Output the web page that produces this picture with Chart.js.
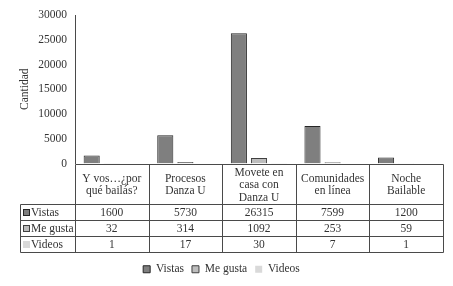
<!DOCTYPE html>
<html><head><meta charset="utf-8">
<script src="https://cdn.jsdelivr.net/npm/chart.js@4"></script>
<style>html,body{margin:0;padding:0;background:#fff}#c{display:block}</style>
</head><body><canvas id="c" width="453" height="286"></canvas>
<script>
const categories = [["Y vos…¿por","qué bailás?"],["Procesos","Danza U"],["Movete en","casa con","Danza U"],["Comunidades","en línea"],["Noche","Bailable"]];
const seriesNames = ["Vistas","Me gusta","Videos"];
const vistas = [1600,5730,26315,7599,1200];
const meGusta = [32,314,1092,253,59];
const videos = [1,17,30,7,1];
const yMax = 30000;
const yStep = 5000;

const FONT = "'Liberation Serif', 'Times New Roman', serif";
const TXT = '#333333';
const LINE = '#4a4a4a';
const fills = ['#7f7f7f','#bdbdbd','#d9d9d9'];
const borders = ['#262626','#404040','#d9d9d9'];
const borderW = [1,1,0];
const seriesData = [vistas, meGusta, videos];

const tablePlugin = {
  id: 'dataTable',
  afterDraw(chart) {
    const ctx = chart.ctx;
    const xs = chart.scales.x;
    const area = chart.chartArea;
    const n = categories.length;
    const half = (xs.getPixelForValue(1) - xs.getPixelForValue(0)) / 2;
    const top = Math.round(area.bottom) + 0.5;
    const hdrH = 40, rowH = 16;
    const labelLeft = 20.5;
    const bottom = top + hdrH + rowH * seriesData.length;
    const bounds = [];
    for (let i = 0; i < n; i++) bounds.push(Math.round(xs.getPixelForValue(i) - half) + 0.5);
    bounds.push(Math.round(xs.getPixelForValue(n - 1) + half) + 0.5);
    ctx.save();
    ctx.strokeStyle = LINE;
    ctx.lineWidth = 1;
    ctx.beginPath();
    ctx.moveTo(bounds[0], top); ctx.lineTo(bounds[n], top);
    for (let r = 0; r <= seriesData.length; r++) {
      const y = top + hdrH + r * rowH;
      ctx.moveTo(labelLeft, y); ctx.lineTo(bounds[n], y);
    }
    for (let i = 0; i <= n; i++) { ctx.moveTo(bounds[i], top); ctx.lineTo(bounds[i], bottom); }
    ctx.moveTo(labelLeft, top + hdrH); ctx.lineTo(labelLeft, bottom);
    ctx.stroke();

    ctx.fillStyle = TXT;
    ctx.font = '11.5px ' + FONT;
    ctx.textAlign = 'center';
    ctx.textBaseline = 'middle';
    const lh = 12.5;
    for (let i = 0; i < n; i++) {
      const cx = xs.getPixelForValue(i);
      const lines = categories[i];
      const cy = top + hdrH / 2;
      lines.forEach((t, k) => {
        ctx.fillText(t, cx, cy + (k - (lines.length - 1) / 2) * lh + 0.5);
      });
      seriesData.forEach((arr, r) => {
        ctx.fillText(String(arr[i]), cx, top + hdrH + r * rowH + rowH / 2 + 0.5);
      });
    }
    ctx.textAlign = 'left';
    seriesNames.forEach((name, r) => {
      const cy = top + hdrH + r * rowH + rowH / 2;
      ctx.fillStyle = fills[r];
      ctx.fillRect(23, cy - 3.5, 7, 7);
      if (borderW[r]) { ctx.strokeStyle = borders[r]; ctx.strokeRect(23.5, cy - 3, 6, 6); }
      ctx.fillStyle = TXT;
      ctx.fillText(name, 31, cy + 0.5);
    });
    ctx.restore();
  }
};

new Chart(document.getElementById('c'), {
  type: 'bar',
  data: {
    labels: categories,
    datasets: seriesNames.map((name, k) => ({
      label: name,
      data: seriesData[k],
      backgroundColor: fills[k],
      borderColor: borders[k],
      borderWidth: borderW[k],
      barPercentage: 0.8,
      categoryPercentage: 0.82
    }))
  },
  options: {
    responsive: false,
    animation: false,
    devicePixelRatio: 1,
    layout: { padding: { top: 15, right: 10, left: 0, bottom: 1 } },
    plugins: {
      legend: {
        position: 'bottom',
        labels: { font: { family: FONT, size: 11.5 }, color: TXT, boxWidth: 7, boxHeight: 7, padding: 8 }
      },
      tooltip: { enabled: false }
    },
    scales: {
      x: {
        grid: { display: false },
        border: { display: false },
        ticks: { display: false },
        afterFit(s) { s.height = 92; }
      },
      y: {
        min: 0, max: yMax,
        grid: { display: false, drawTicks: false },
        border: { display: true, color: LINE },
        ticks: { stepSize: yStep, color: TXT, font: { family: FONT, size: 11.5 }, padding: 8,
                 callback: v => String(v) },
        title: { display: true, text: 'Cantidad', color: TXT, font: { family: FONT, size: 11.5 },
                 padding: { top: 18, bottom: 4 } },
        afterFit(s) { s.width = 75; }
      }
    }
  },
  plugins: [tablePlugin]
});
</script></body></html>
